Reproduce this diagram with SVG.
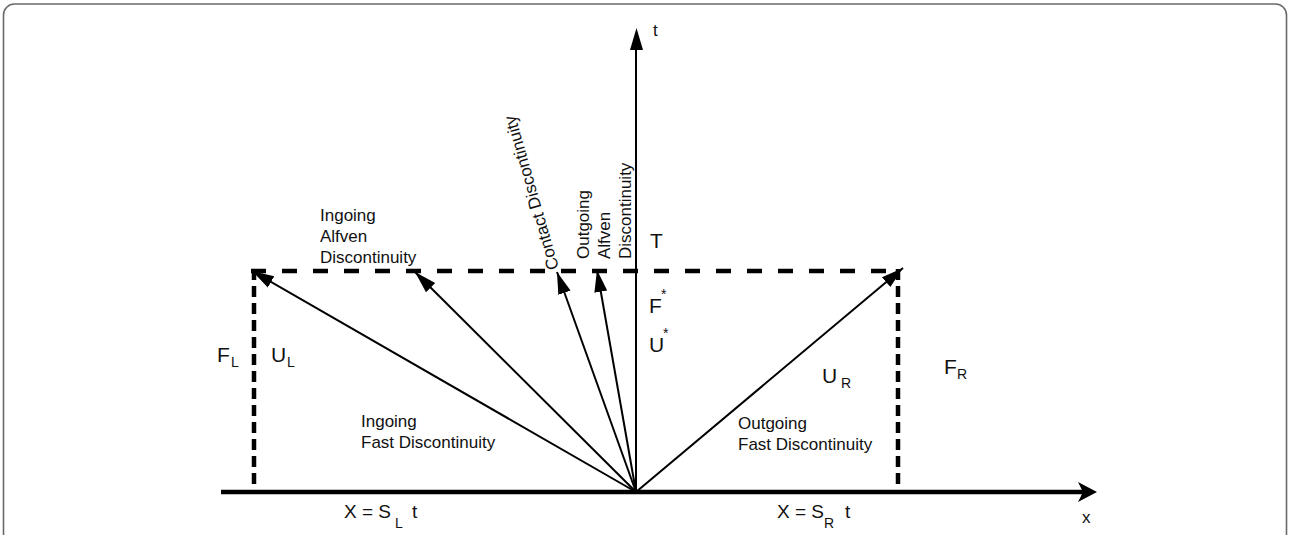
<svg xmlns="http://www.w3.org/2000/svg" width="1290" height="535" viewBox="0 0 1290 535">
<style>
text{font-family:"Liberation Sans",Arial,sans-serif;fill:#111}
.lbl{font-size:17px}
.big{font-size:21px}
.eq{font-size:19px}
.sub{font-size:14px}
.ray{stroke:#000;stroke-width:2;fill:none;marker-end:url(#ah)}
.dh{stroke:#000;stroke-width:4.5;fill:none;stroke-dasharray:15 16}
.dv{stroke:#000;stroke-width:4.5;fill:none;stroke-dasharray:11 6}
</style>
<defs>
<marker id="ah" markerUnits="userSpaceOnUse" markerWidth="24" markerHeight="16" viewBox="0 0 24 16" refX="22" refY="8" orient="auto">
<path d="M0,1.5 L22,8 L0,14.5 Z" fill="#000"/>
</marker>
</defs>
<rect x="3.5" y="4" width="1283" height="580" rx="11" fill="#fff" stroke="#6a6a6a" stroke-width="1.6"/>
<g id="axes">
<line x1="221" y1="492" x2="1084" y2="492" stroke="#000" stroke-width="4.5"/>
<path d="M1097,492 L1078,482 L1083,492 L1078,502 Z" fill="#000"/>
<line x1="636" y1="494" x2="636" y2="45" stroke="#000" stroke-width="2"/>
<path d="M636.5,28 L643,50 L630,50 Z" fill="#000"/>
</g>
<g id="dashed">
<line class="dh" x1="251" y1="271" x2="902" y2="271"/>
<line class="dv" x1="254" y1="269" x2="254" y2="492"/>
<line class="dv" x1="898" y1="269" x2="898" y2="492"/>
</g>
<g id="connectors">
<line class="ray" x1="636" y1="492" x2="252" y2="271"/>
<line class="ray" x1="636" y1="492" x2="415" y2="272"/>
<line class="ray" x1="636" y1="492" x2="557" y2="272"/>
<line class="ray" x1="636" y1="492" x2="597" y2="270"/>
<line class="ray" x1="636" y1="492" x2="903" y2="268"/>
</g>
<g id="axis-labels">
<text class="lbl" x="653" y="36">t</text>
<text class="lbl" x="1082" y="523">x</text>
</g>
<g id="ingoing-alfven">
<text class="lbl" x="320" y="221">Ingoing</text>
<text class="lbl" x="320" y="242">Alfven</text>
<text class="lbl" x="320" y="263">Discontinuity</text>
</g>
<g id="contact">
<text class="lbl" transform="translate(559,268) rotate(-106)">Contact Discontinuity</text>
</g>
<g id="outgoing-alfven">
<text class="lbl" transform="translate(589,259) rotate(-90)">Outgoing</text>
<text class="lbl" transform="translate(610,259) rotate(-90)">Alfven</text>
<text class="lbl" transform="translate(631,259) rotate(-90)">Discontinuity</text>
</g>
<g id="star-region">
<text class="big" x="650" y="248">T</text>
<text class="big" x="649" y="313">F</text>
<text class="sub" x="661" y="299">*</text>
<text class="big" x="649" y="352">U</text>
<text class="sub" x="663" y="338">*</text>
</g>
<g id="left-state">
<text class="big" x="217" y="362">F</text>
<text class="sub" x="231" y="367">L</text>
<text class="big" x="271" y="362">U</text>
<text class="sub" x="287" y="367">L</text>
</g>
<g id="right-state">
<text class="big" x="822" y="383">U</text>
<text class="sub" x="841" y="388">R</text>
<text class="big" x="944" y="374">F</text>
<text class="sub" x="957" y="379">R</text>
</g>
<g id="ingoing-fast">
<text class="lbl" x="361" y="427">Ingoing</text>
<text class="lbl" x="361" y="448">Fast Discontinuity</text>
</g>
<g id="outgoing-fast">
<text class="lbl" x="738" y="429">Outgoing</text>
<text class="lbl" x="738" y="450">Fast Discontinuity</text>
</g>
<g id="speed-left">
<text class="eq" x="344" y="518">X = S</text>
<text class="sub" x="395" y="528">L</text>
<text class="eq" x="412" y="518">t</text>
</g>
<g id="speed-right">
<text class="eq" x="777" y="518">X = S</text>
<text class="sub" x="824" y="528">R</text>
<text class="eq" x="845" y="518">t</text>
</g>
</svg>
